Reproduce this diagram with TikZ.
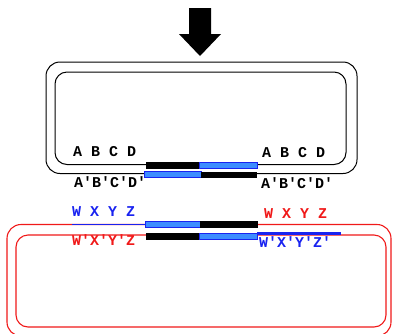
\documentclass[tikz,border=0pt]{standalone}
\usepackage{fontspec}
\setmonofont{Liberation Mono}
\definecolor{myblue}{RGB}{25,35,240}
\definecolor{barblue}{RGB}{60,140,255}
\definecolor{myred}{RGB}{240,25,25}
\tikzset{
  loopk/.style={draw=black, line width=1pt},
  loopr/.style={draw=myred, line width=1.1pt},
  kbar/.style={fill=black, draw=none},
  bbar/.style={fill=barblue, draw=myblue, line width=0.9pt},
  lbl/.style={inner sep=0pt, anchor=base west, font=\ttfamily\bfseries\fontsize{15}{15}\selectfont},
}
\begin{document}
\begin{tikzpicture}[x=1pt, y=-1pt]
\useasboundingbox (0,0) rectangle (393,333);
\clip (0,0) rectangle (393,333);
% arrow
\fill[black] (189,8) -- (211,8) -- (211,34) -- (221,34) -- (200,56) -- (179,34) -- (189,34) -- cycle;
% black loops
\draw[loopk, rounded corners=14pt] (46,62) rectangle (357,173.5);
\draw[loopk, rounded corners=12pt] (55,72) rectangle (346,164.5);
% bars upper molecule
\fill[kbar] (146,162) rectangle (199,169);
\draw[bbar] (199,162.5) rectangle (257,168.5);
\draw[bbar] (144.5,171.5) rectangle (201,177);
\fill[kbar] (201,172) rectangle (257,178);
% red loops
\draw[loopr, rounded corners=14pt] (7,224.5) rectangle (391,336);
\draw[loopr, rounded corners=12pt] (16,235) rectangle (386,327);
\draw[myblue, line width=1.3pt] (72,224.5) -- (146,224.5);
\draw[myblue, line width=2.6pt] (257,233.3) -- (341,233.3);
% bars lower molecule
\draw[bbar] (145.5,221.5) rectangle (200,227);
\fill[kbar] (200,221) rectangle (258,227.5);
\fill[kbar] (146,233) rectangle (199,240);
\draw[bbar] (199,233.5) rectangle (257,239.5);
% labels
\node[lbl] (abcdTL) at (73,156) {A B C D};
\node[lbl] (abcdTR) at (262,157.5) {A B C D};
\node[lbl] (abcdBL) at (74,187) {A'B'C'D'};
\node[lbl] (abcdBR) at (261,188) {A'B'C'D'};
\node[lbl, text=myblue] (wxyzTL) at (72,216) {W X Y Z};
\node[lbl, text=myred] (wxyzTR) at (264,218.5) {W X Y Z};
\node[lbl, text=myred] (wxyzBL) at (72,245.5) {W'X'Y'Z};
\node[lbl, text=myblue] (wxyzBR) at (259,247) {W'X'Y'Z'};
\end{tikzpicture}
\end{document}
